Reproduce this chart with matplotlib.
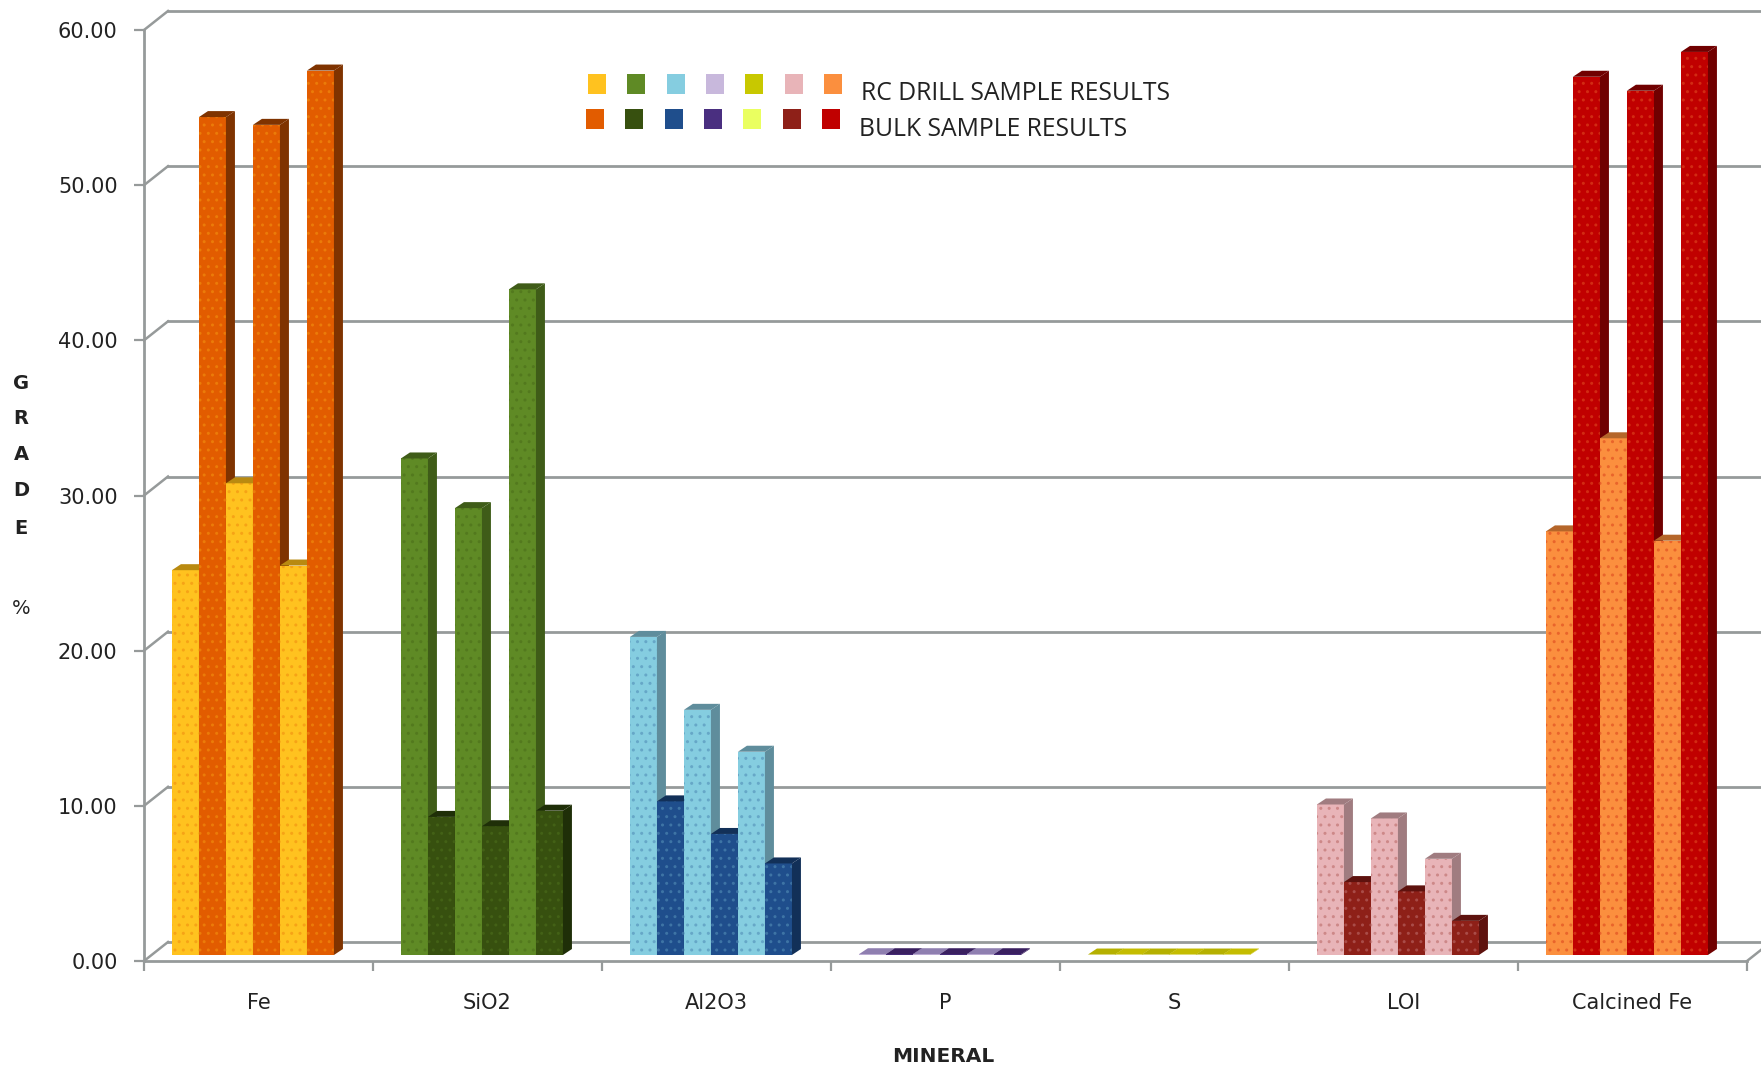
import numpy as np
import matplotlib
matplotlib.use('Agg')
import matplotlib.pyplot as plt
from matplotlib.colors import to_rgb
from matplotlib.patches import Polygon, Rectangle

minerals = ['Fe', 'SiO2', 'Al2O3', 'P', 'S', 'LOI', 'Calcined Fe']
gradeTicks = [0, 10, 20, 30, 40, 50, 60]

# three holes per mineral, RC drill and bulk side by side
rcDrill = [[24.8, 30.4, 25.1],
           [32.0, 28.8, 42.9],
           [20.5, 15.8, 13.1],
           [0.05, 0.05, 0.05],
           [0.03, 0.03, 0.03],
           [9.7, 8.8, 6.2],
           [27.3, 33.3, 26.7]]
bulk = [[54.0, 53.5, 57.0],
        [8.9, 8.3, 9.3],
        [9.9, 7.8, 5.9],
        [0.05, 0.05, 0.05],
        [0.03, 0.03, 0.03],
        [4.7, 4.1, 2.2],
        [56.6, 55.7, 58.2]]

rcColors = ['#FFC21F', '#5F8A25', '#85CDE0', '#C8B8DC', '#C8C800', '#E8B4B8', '#FB8F3E']
bulkColors = ['#E25C00', '#37500F', '#1F4E8C', '#4A2F80', '#EAFF60', '#8E2018', '#C00000']
rcSide = ['#B98A10', '#3F5C18', '#5F8D9C', '#8F7FB0', '#B5B000', '#A07C80', '#B5662A']
bulkSide = ['#7F3300', '#1F2F08', '#123058', '#3A2060', '#C4BC00', '#5E120E', '#700000']

W, H = 1761, 1066
plt.rcParams['font.family'] = ['DejaVu Sans']

fig = plt.figure(figsize=(W / 100, H / 100), dpi=100)
left, right, top, bottom = 144, 1747, 30, 961
ax = fig.add_axes([left / W, 1 - bottom / H, (right - left) / W, (bottom - top) / H])
ax.set_xlim(0, len(minerals))
ax.set_ylim(0, 60)

pxX = len(minerals) / (right - left)
pxY = 60 / (bottom - top)
gridColor = '#969A9A'

# back wall and floor of the 3d box
wallX, wallY = 24 * pxX, 19 * pxY
for v in gradeTicks:
    ax.plot([wallX, len(minerals) + wallX], [v + wallY, v + wallY], color=gridColor,
            lw=2.0, clip_on=False, zorder=1)
    ax.plot([0, wallX], [v, v + wallY], color=gridColor, lw=1.8, clip_on=False, zorder=1)
ax.plot([len(minerals), len(minerals) + wallX], [0, wallY], color=gridColor, lw=1.8,
        clip_on=False, zorder=1)

barW = 27 * pxX
barStart = 0.122
barBase = 6 * pxY
sideX, sideY = 9 * pxX, 6 * pxY


def mix(a, b, t):
    a, b = np.array(to_rgb(a)), np.array(to_rgb(b))
    return tuple(a + (b - a) * t)


def draw_bar(x, value, face, side, speck):
    top_y = barBase + value
    # fine speckle on the front face
    ax.bar(x, value, barW, bottom=barBase, align='edge', color=face, edgecolor=mix(face, speck, 0.3),
           linewidth=0, hatch='..', zorder=3, clip_on=False)
    ax.add_patch(Polygon([(x + barW, barBase), (x + barW + sideX, barBase + sideY),
                          (x + barW + sideX, top_y + sideY), (x + barW, top_y)],
                         closed=True, facecolor=side, edgecolor='none', zorder=3, clip_on=False))
    ax.add_patch(Polygon([(x, top_y), (x + sideX, top_y + sideY),
                          (x + barW + sideX, top_y + sideY), (x + barW, top_y)],
                         closed=True, facecolor=side, edgecolor='none', zorder=3, clip_on=False))


for i in range(len(minerals)):
    for j in range(3):
        x = i + barStart + 2 * j * barW
        draw_bar(x, rcDrill[i][j], rcColors[i], rcSide[i], bulkColors[i])
        draw_bar(x + barW, bulk[i][j], bulkColors[i], bulkSide[i], rcColors[i])

# axes
for name in ['top', 'right']:
    ax.spines[name].set_visible(False)
for name in ['left', 'bottom']:
    ax.spines[name].set_color(gridColor)
    ax.spines[name].set_linewidth(2.0)
    ax.spines[name].set_zorder(2)
ax.set_yticks(gradeTicks)
ax.set_yticklabels(['%.2f' % v for v in gradeTicks], fontsize=15, color='#222222')
ax.set_xticks(np.arange(len(minerals) + 1))
ax.set_xticklabels([])
ax.set_xticks(np.arange(len(minerals)) + 0.5, minor=True)
ax.set_xticklabels(minerals, minor=True, fontsize=15, color='#222222')
ax.tick_params(axis='both', which='major', color=gridColor, width=1.6, length=7)
ax.tick_params(axis='y', pad=12)
ax.tick_params(axis='x', which='minor', length=0, pad=23)

# swatch legend
for k in range(len(minerals)):
    fig.add_artist(Rectangle(((588 + 39.3 * k) / W, 1 - 94 / H), 18 / W, 20 / H,
                             facecolor=rcColors[k], edgecolor='none',
                             transform=fig.transFigure))
    fig.add_artist(Rectangle(((586 + 39.3 * k) / W, 1 - 129 / H), 18 / W, 20 / H,
                             facecolor=bulkColors[k], edgecolor='none',
                             transform=fig.transFigure))
fig.text(861 / W, 1 - 94 / H, 'RC DRILL SAMPLE RESULTS', fontsize=17.8, family='Open Sans',
         color='#222222', va='center')
fig.text(859 / W, 1 - 129 / H, 'BULK SAMPLE RESULTS', fontsize=17.8, family='Open Sans',
         color='#222222', va='center')

# axis titles
for letter, yPos in zip(['G', 'R', 'A', 'D', 'E', '%'], [384, 418, 454, 490, 528, 609]):
    fig.text(21 / W, 1 - yPos / H, letter, fontsize=14, fontweight='bold' if letter != '%' else 'normal',
             color='#222222', ha='center', va='center')
fig.text(943 / W, 1 - 1056 / H, 'MINERAL', fontsize=14.5, fontweight='bold', color='#222222',
         ha='center', va='center')

fig.savefig('out.png', dpi=100)
